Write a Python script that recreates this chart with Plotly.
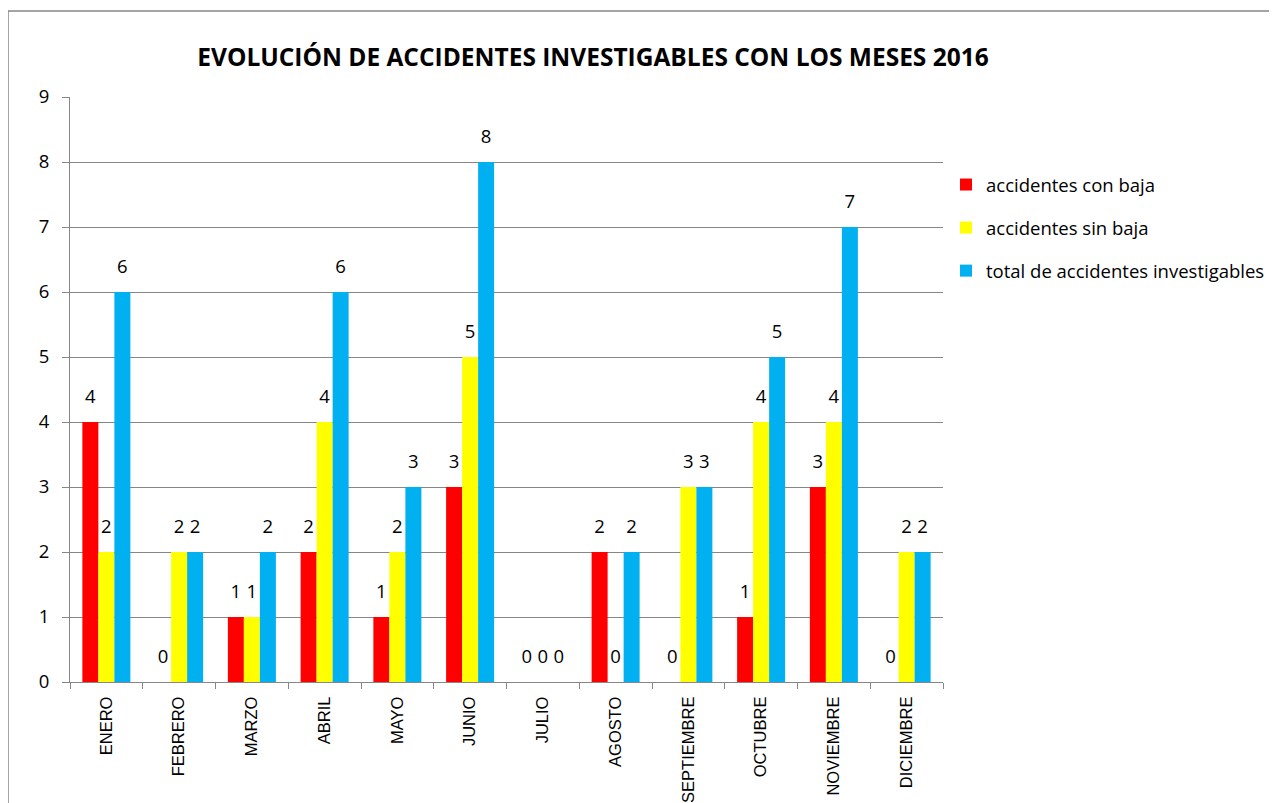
import plotly.graph_objects as go

meses = ["ENERO", "FEBRERO", "MARZO", "ABRIL", "MAYO", "JUNIO", "JULIO",
         "AGOSTO", "SEPTIEMBRE", "OCTUBRE", "NOVIEMBRE", "DICIEMBRE"]
con_baja = [4, 0, 1, 2, 1, 3, 0, 2, 0, 1, 3, 0]
sin_baja = [2, 2, 1, 4, 2, 5, 0, 0, 3, 4, 4, 2]
total = [6, 2, 2, 6, 3, 8, 0, 2, 3, 5, 7, 2]
y_ticks = list(range(0, 10))

FONT = "Open Sans"
XFONT = "Liberation Sans"
series = [
    ("accidentes con baja", con_baja, "#FF0000"),
    ("accidentes sin baja", sin_baja, "#FFFF00"),
    ("total de accidentes investigables", total, "#00B0F0"),
]

fig = go.Figure()
for i, (name, vals, col) in enumerate(series):
    fig.add_trace(go.Bar(
        x=meses, y=vals, name=name, marker_color=col, marker_line_width=0,
        legendgroup=f"g{i}",
        texttemplate="<span style='font-size:18.5px'>%{y}</span><br> ",
        textposition="outside",
        textfont=dict(family=FONT, size=10, color="black"),
        cliponaxis=False,
    ))

# page offset (browser body margin)
OFF = 8
W, H = 1277, 803
L, T = 70 - OFF, 97 - OFF
R = W - (943 - OFF)
B = H - (682 - OFF)
pw, ph = W - L - R, H - T - B

def px_x(sx):
    return (sx - OFF - L) / pw

def px_y(sy):
    return (H - B - (sy - OFF)) / ph

fig.update_layout(
    width=W, height=H,
    margin=dict(l=L, r=R, t=T, b=B, autoexpand=False),
    paper_bgcolor="white", plot_bgcolor="white",
    barmode="group", bargap=0.34, bargroupgap=0,
    font=dict(family=FONT, size=16, color="black"),
    title=dict(text="<b>EVOLUCIÓN DE ACCIDENTES INVESTIGABLES CON LOS MESES 2016</b>",
               x=(593 - OFF) / W, xanchor="center",
               y=1 - (57 - OFF) / H, yanchor="middle",
               font=dict(family=FONT, size=24.5, color="black")),
    legend=dict(x=px_x(946), y=px_y(166), xanchor="left", yanchor="top",
                font=dict(family=FONT, size=18.5), tracegroupgap=16,
                traceorder="grouped",
                itemsizing="constant", bgcolor="rgba(0,0,0,0)"),
    showlegend=True,
)
fig.update_xaxes(
    type="category", tickson="boundaries", ticks="outside", ticklen=6,
    tickcolor="#868686", showline=True, linecolor="#868686", linewidth=1,
    showgrid=False, tickangle=-90, tickfont=dict(family=XFONT, size=16.5),
    ticklabelstandoff=7, automargin=False,
)
fig.update_yaxes(
    range=[0, 9], tickvals=y_ticks, ticks="outside", ticklen=7,
    tickcolor="#868686", showline=True, linecolor="#868686", linewidth=1,
    showgrid=True, gridcolor="#868686", gridwidth=1, zeroline=False,
    tickfont=dict(family=FONT, size=18.5), ticklabelstandoff=9,
    automargin=False,
)
fig.add_shape(type="rect", xref="paper", yref="paper",
              x0=px_x(8), x1=px_x(1300), y0=px_y(11), y1=px_y(830),
              line=dict(color="#868686", width=1.5), layer="above")

fig.write_html("out.html")
